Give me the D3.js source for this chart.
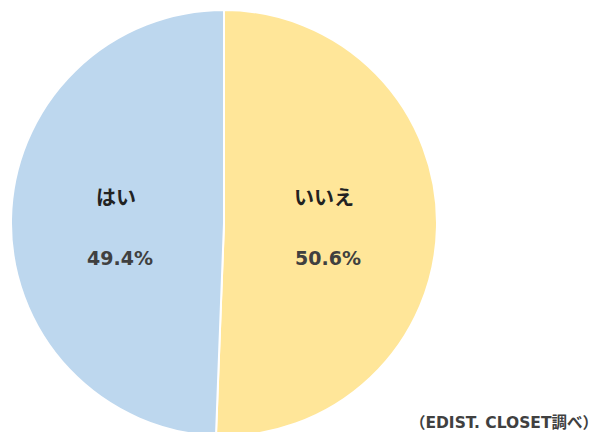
<!DOCTYPE html>
<html lang="ja">
<head>
  <meta charset="UTF-8">
  <title>はい / いいえ</title>
  <script src="https://cdn.jsdelivr.net/npm/d3@7"></script>
  <style>
    body { margin: 0; background: #fff; }
    text { font-family: "DejaVu Sans", "Noto Sans CJK JP", sans-serif; font-weight: bold; }
    .name { font-family: "Noto Sans CJK JP", sans-serif; }
  </style>
</head>
<body>
  <svg width="603" height="432"></svg>
  <script>
    // data
    var categories = ['いいえ', 'はい'];
    var values = [50.6, 49.4];
    var colors = ['#FFE699', '#BDD7EE'];
    var source = '（EDIST. CLOSET調べ）';

    var svg = d3.select('svg');
    var cx = 224, cy = 223, radius = 213;

    var data = categories.map(function(c, i) {
      return {name: c, value: values[i], color: colors[i]};
    });

    var pie = d3.pie()
      .sort(null)
      .value(function(d) { return d.value; });

    var arc = d3.arc().innerRadius(0).outerRadius(radius);
    var labelArc = d3.arc().innerRadius(104).outerRadius(104);

    var chart = svg.append('g')
      .attr('transform', 'translate(' + cx + ',' + cy + ')');

    var slice = chart.selectAll('.slice')
      .data(pie(data))
      .enter()
      .append('g')
      .attr('class', 'slice');

    slice.append('path')
      .attr('d', arc)
      .attr('fill', function(d) { return d.data.color; })
      .attr('stroke', '#fff')
      .attr('stroke-width', 2);

    // labels sit at the same height on both sides, only x from the centroid
    var label = slice.append('g')
      .attr('transform', function(d) {
        var c = labelArc.centroid(d);
        return 'translate(' + c[0] + ',0)';
      });

    label.append('text')
      .attr('class', 'name')
      .attr('text-anchor', 'middle')
      .attr('x', -4)
      .attr('y', -25)
      .attr('dy', '.35em')
      .attr('font-size', 20)
      .attr('fill', '#222')
      .text(function(d) { return d.data.name; });

    label.append('text')
      .attr('text-anchor', 'middle')
      .attr('y', 35)
      .attr('dy', '.35em')
      .attr('font-size', 19)
      .attr('fill', '#404040')
      .text(function(d) { return d.data.value.toFixed(1) + '%'; });

    svg.append('text')
      .attr('x', 598)
      .attr('y', 428)
      .attr('text-anchor', 'end')
      .attr('font-size', 15.5)
      .attr('fill', '#404040')
      .text(source);
  </script>
</body>
</html>
